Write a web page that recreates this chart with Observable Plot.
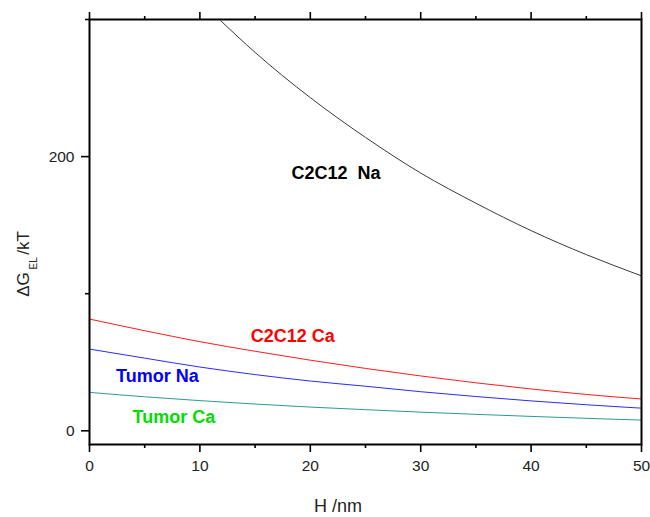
<!DOCTYPE html>
<html>
<head>
<meta charset="utf-8">
<script src="https://cdn.jsdelivr.net/npm/d3@7"></script>
<script src="https://cdn.jsdelivr.net/npm/@observablehq/plot@0.6"></script>
<style>
  html, body { margin: 0; padding: 0; background: #fff; }
  #chart svg { display: block; }
</style>
</head>
<body>
<div id="chart"></div>
<script>
// H (nm) sample points
const H = [0, 5, 10, 15, 20, 25, 30, 35, 40, 45, 50];
// C2C12 Na leaves the plotted range above 300 kT for small H
const H_c2c12Na = [11.9, 15, 20, 25, 30, 35, 40, 45, 50];
const c2c12Na = [299, 276, 243, 214, 188, 166, 146, 128.5, 113];
const c2c12Ca = [81.5, 73, 65, 58, 51.5, 45.5, 40, 35, 30.5, 26.5, 23.2];
const tumorNa = [59.6, 53, 46.5, 41, 36.3, 32.5, 28.5, 25, 21.8, 19, 16.5];
const tumorCa = [28, 24.8, 22, 19.5, 17.3, 15.4, 13.6, 12, 10.5, 9.1, 7.8];

const xMajorTicks = [0, 10, 20, 30, 40, 50];
const xMinorTicks = [5, 15, 25, 35, 45];
const yMajorTicks = [0, 200];
const yMinorTicks = [100, 300];

// curve annotations (data coordinates)
const labelText = ["C2C12  Na", "C2C12 Ca", "Tumor Na", "Tumor Ca"];
const labelH = [18.3, 14.6, 2.4, 3.9];
const labelG = [187.6, 69.3, 40.1, 10.2];

const seriesColor = ["#3a3a3a", "#ff1a1a", "#2a2aff", "#2a9a96"];
const labelColor = ["#000000", "#ff0000", "#0000ff", "#00dd00"];

const rows = [];
H_c2c12Na.forEach((h, i) => rows.push({s: 0, H: h, G: c2c12Na[i]}));
H.forEach((h, i) => rows.push({s: 1, H: h, G: c2c12Ca[i]}));
H.forEach((h, i) => rows.push({s: 2, H: h, G: tumorNa[i]}));
H.forEach((h, i) => rows.push({s: 3, H: h, G: tumorCa[i]}));
const labels = labelText.map((t, i) => ({t, H: labelH[i], G: labelG[i], c: labelColor[i]}));

const font = "'Liberation Sans', Arial, sans-serif";

const chart = Plot.plot({
  width: 650,
  height: 517,
  marginLeft: 89,
  marginRight: 9,
  marginTop: 19,
  marginBottom: 73,
  style: {fontFamily: font, background: "#fff", color: "#222"},
  x: {domain: [0, 50]},
  y: {domain: [-10, 300]},
  marks: [
    Plot.axisX({ticks: xMajorTicks, tickSize: 8, tickPadding: 7, fontSize: 15.5, strokeWidth: 1.6, stroke: "#000", label: null}),
    Plot.axisX({ticks: xMinorTicks, tickSize: 4, tickFormat: () => "", strokeWidth: 1.6, stroke: "#000", label: null}),
    Plot.axisX({anchor: "top", ticks: xMajorTicks, tickSize: 8, tickFormat: () => "", strokeWidth: 1.6, stroke: "#000", label: null}),
    Plot.axisX({anchor: "top", ticks: xMinorTicks, tickSize: 4, tickFormat: () => "", strokeWidth: 1.6, stroke: "#000", label: null}),
    Plot.axisY({ticks: yMajorTicks, tickSize: 8, tickPadding: 7, fontSize: 15.5, strokeWidth: 1.6, stroke: "#000", label: null}),
    Plot.axisY({ticks: yMinorTicks, tickSize: 4, tickFormat: () => "", strokeWidth: 1.6, stroke: "#000", label: null}),
    Plot.line(rows, {x: "H", y: "G", z: "s", stroke: d => seriesColor[d.s], strokeWidth: 1, curve: "monotone-x", clip: true}),
    Plot.text(labels, {x: "H", y: "G", text: "t", fill: "c", textAnchor: "start", fontSize: 18, fontWeight: "bold"}),
    Plot.frame({stroke: "#000", strokeWidth: 2})
  ]
});

const svg = d3.select(chart);
// x axis title
svg.append("text")
  .attr("x", 338).attr("y", 512)
  .attr("text-anchor", "middle")
  .attr("font-family", font)
  .attr("font-size", 18)
  .attr("fill", "#222")
  .text("H /nm");
// y axis title with subscript
const yt = svg.append("text")
  .attr("transform", "translate(28.5,264) rotate(-90)")
  .attr("text-anchor", "middle")
  .attr("font-family", font)
  .attr("font-size", 17)
  .attr("fill", "#222");
yt.append("tspan").text("ΔG");
yt.append("tspan").attr("dy", 8).attr("font-size", 10).text(" EL ");
yt.append("tspan").attr("dy", -8).text("/kT");

document.getElementById("chart").appendChild(chart);
</script>
</body>
</html>
